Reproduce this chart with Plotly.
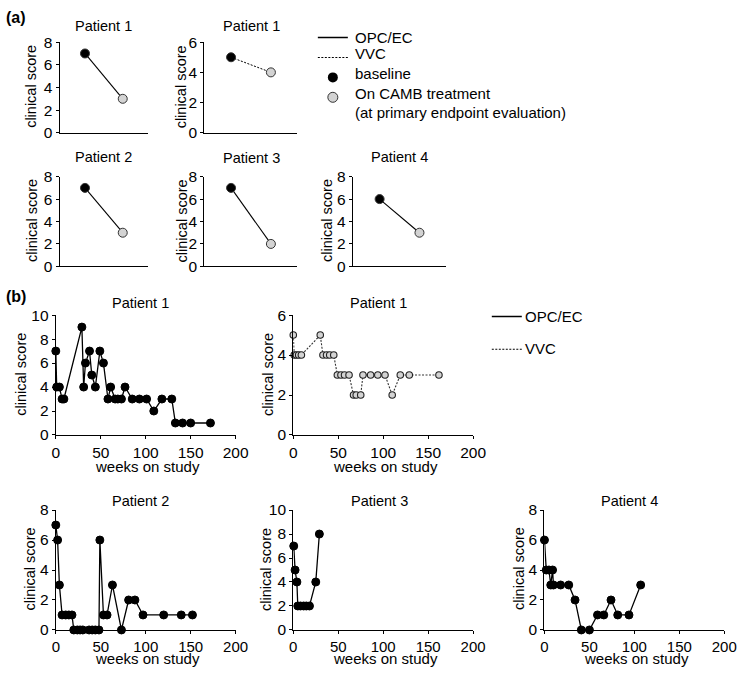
import plotly.graph_objects as go

# ---------------- data ----------------
a_timepoints = ["baseline", "On CAMB treatment"]
a_p1_opc = [7, 3]
a_p1_vvc = [5, 4]
a_p2_opc = [7, 3]
a_p3_opc = [7, 2]
a_p4_opc = [6, 3]

b_p1_weeks = [0, 1, 4, 7, 9, 29, 31, 33, 37.5, 40, 44, 49, 53, 58, 61, 66, 69, 73, 77, 85, 93, 101, 109, 118, 129, 133, 141, 150, 172]
b_p1_scores = [7, 4, 4, 3, 3, 9, 4, 6, 7, 5, 4, 7, 6, 3, 4, 3, 3, 3, 4, 3, 3, 3, 2, 3, 3, 1, 1, 1, 1]

b_p1v_weeks = [0, 1, 3.5, 6, 9, 30, 33, 37, 40.5, 45, 49, 53, 57, 62, 67, 70, 75, 77.5, 86, 94, 102, 110, 119, 129, 162]
b_p1v_scores = [5, 4, 4, 4, 4, 5, 4, 4, 4, 4, 3, 3, 3, 3, 2, 2, 2, 3, 3, 3, 3, 2, 3, 3, 3]

b_p2_weeks = [0, 2, 4, 7, 11, 14.5, 18, 20, 24, 27, 30, 37, 40.5, 44, 48, 49, 53, 57, 63, 73, 81, 88, 97, 120, 139.5, 152]
b_p2_scores = [7, 6, 3, 1, 1, 1, 1, 0, 0, 0, 0, 0, 0, 0, 0, 6, 1, 1, 3, 0, 2, 2, 1, 1, 1, 1]

b_p3_weeks = [0.5, 2, 4, 5, 8, 11.5, 14.5, 18, 25, 29]
b_p3_scores = [7, 5, 4, 2, 2, 2, 2, 2, 4, 8]

b_p4_weeks = [0, 2, 5, 7, 9, 10, 18, 27, 34, 41, 50, 59, 66, 74, 81.5, 94, 107]
b_p4_scores = [6, 4, 4, 3, 4, 3, 3, 3, 2, 0, 0, 1, 1, 2, 1, 1, 3]

legend_a_labels = ["OPC/EC", "VVC", "baseline", "On CAMB treatment", "(at primary endpoint evaluation)"]
legend_b_labels = ["OPC/EC", "VVC"]

# ---------------- layout helpers ----------------
W, H = 750, 675
FONT = "Liberation Sans, Arial, sans-serif"
TICKF = 15.5
TITLEF = 14.5
GRAY = "#d3d3d3"
DOT = "2px,1.5px"


def xd(a, b):
    return [a / W, b / W]


def yd(top, bot):
    return [1 - bot / H, 1 - top / H]


def px(x):
    return x / W


def py(y):
    return 1 - y / H


fig = go.Figure()
layout = {}
ann = []

a_axes = [
    (57, 147, 34, 127, [0, 8]),
    (205, 300, 34, 127, [0, 6]),
    (57, 147, 172, 264, [0, 8]),
    (205, 300, 172, 264, [0, 8]),
    (357, 452, 172, 264, [0, 8]),
]
b_axes = [
    (53, 237, 314, 437, [0, 10]),
    (296, 480, 314, 437, [0, 6]),
    (53, 237, 514, 637, [0, 8]),
    (296, 480, 514, 637, [0, 10]),
    (553, 737, 514, 637, [0, 8]),
]
a_ytitle_x = [28, 182, 28, 182, 330]
b_ytitle_x = [17, 270, 27, 268, 527]
b_xtitle_y = [469, 469, 666, 666, 666]

axis_common = dict(showline=True, linecolor="black", linewidth=1.3, showgrid=False, zeroline=False,
                   tickfont=dict(family=FONT, size=TICKF, color="black"), ticks="outside",
                   ticklen=3, tickwidth=1.2, tickcolor="black")


def ytitle(x, top, bot):
    ann.append(dict(text="clinical score", x=px(x), y=py((top + bot) / 2 - 1), xref="paper", yref="paper",
                    showarrow=False, textangle=-90, xanchor="center", yanchor="middle",
                    font=dict(family=FONT, size=TITLEF, color="black")))


def xtitle(x0, x1, y):
    ann.append(dict(text="weeks on study", x=px((x0 + x1) / 2 + 2), y=py(y), xref="paper", yref="paper",
                    showarrow=False, xanchor="center", yanchor="middle", borderpad=0,
                    font=dict(family=FONT, size=15, color="black")))


idx = 1
for k, (x0, x1, y0, y1, yr) in enumerate(a_axes):
    s = "" if idx == 1 else str(idx)
    layout["xaxis" + s] = dict(domain=xd(x0, x1), anchor="y" + s, type="category",
                               range=[-0.67, 1.66], showline=True, linecolor="black", linewidth=1.3,
                               showgrid=False, zeroline=False, showticklabels=False, ticks="")
    layout["yaxis" + s] = dict(axis_common, domain=yd(y0, y1), anchor="x" + s, range=yr, dtick=2)
    ytitle(a_ytitle_x[k], y0, y1)
    idx += 1

for k, (x0, x1, y0, y1, yr) in enumerate(b_axes):
    s = str(idx)
    xax = dict(axis_common, domain=xd(x0, x1), anchor="y" + s, range=[0, 200], dtick=50)
    if k >= 2:
        xax["tickfont"] = dict(family=FONT, size=15, color="black")
    layout["xaxis" + s] = xax
    layout["yaxis" + s] = dict(axis_common, domain=yd(y0, y1), anchor="x" + s, range=yr, dtick=2)
    ytitle(b_ytitle_x[k], y0, y1)
    xtitle(x0, x1, b_xtitle_y[k])
    idx += 1

# ---------------- traces: panel (a) ----------------
a_series = [(a_p1_opc, "solid"), (a_p1_vvc, DOT), (a_p2_opc, "solid"), (a_p3_opc, "solid"), (a_p4_opc, "solid")]
for i, (vals, dash) in enumerate(a_series, start=1):
    s = "" if i == 1 else str(i)
    fig.add_trace(go.Scatter(
        x=a_timepoints, y=vals, mode="lines+markers",
        line=dict(color="black", width=1.1 if dash == "solid" else 1.0, dash=dash),
        marker=dict(size=9, color=["black", GRAY], line=dict(color="#333333", width=1)),
        xaxis="x" + s, yaxis="y" + s, showlegend=False, cliponaxis=False))

# ---------------- traces: panel (b) ----------------
b_series = [
    (b_p1_weeks, b_p1_scores, "solid"),
    (b_p1v_weeks, b_p1v_scores, "dot"),
    (b_p2_weeks, b_p2_scores, "solid"),
    (b_p3_weeks, b_p3_scores, "solid"),
    (b_p4_weeks, b_p4_scores, "solid"),
]
for j, (xs, ys, dash) in enumerate(b_series, start=6):
    if dash == "solid":
        mk = dict(size=8, color="black", line=dict(color="black", width=1))
        ln = dict(color="black", width=1.3)
    else:
        mk = dict(size=6.5, color=GRAY, line=dict(color="#222222", width=1.1))
        ln = dict(color="#333333", width=1.1, dash=DOT)
    fig.add_trace(go.Scatter(x=xs, y=ys, mode="lines+markers", line=ln, marker=mk,
                             xaxis=f"x{j}", yaxis=f"y{j}", showlegend=False, cliponaxis=False))

# ---------------- legends (keys via plotly legend, labels as text) ----------------
KEYF = dict(family=FONT, size=13, color="black")
fig.add_trace(go.Scatter(x=[None], y=[None], mode="lines", name=" ",
                         line=dict(color="black", width=1.5), legend="legend", legendrank=1))
fig.add_trace(go.Scatter(x=[None], y=[None], mode="lines", name=" ",
                         line=dict(color="black", width=1.1, dash=DOT), legend="legend", legendrank=2))
fig.add_trace(go.Scatter(x=[None], y=[None], mode="markers", name=" ",
                         marker=dict(size=10, color="black"), legend="legend", legendrank=3))
fig.add_trace(go.Scatter(x=[None], y=[None], mode="markers", name=" ",
                         marker=dict(size=10, color=GRAY, line=dict(color="#333333", width=1)),
                         legend="legend", legendrank=4))

fig.add_trace(go.Scatter(x=[None], y=[None], mode="lines", name=" ",
                         line=dict(color="black", width=1.5), legend="legend2", legendgroup="g1"))
fig.add_trace(go.Scatter(x=[None], y=[None], mode="lines", name=" ",
                         line=dict(color="black", width=1.1, dash=DOT), legend="legend2", legendgroup="g2"))

layout["legend"] = dict(x=px(316), y=py(14), xanchor="left", yanchor="top", font=KEYF,
                        bgcolor="rgba(0,0,0,0)", tracegroupgap=0, itemwidth=30, traceorder="normal")
layout["legend2"] = dict(x=px(494), y=py(300), xanchor="left", yanchor="top", font=KEYF,
                         bgcolor="rgba(0,0,0,0)", tracegroupgap=13, itemwidth=30, traceorder="grouped")

LEGF = dict(family=FONT, size=15, color="black")
for t, y in zip(legend_a_labels, [29, 46, 66, 87, 106]):
    ann.append(dict(text=t, x=px(357), y=py(y), xref="paper", yref="paper", showarrow=False,
                    xanchor="left", yanchor="middle", font=LEGF))
for t, y in zip(legend_b_labels, [315, 348]):
    ann.append(dict(text=t, x=px(531), y=py(y), xref="paper", yref="paper", showarrow=False,
                    xanchor="left", yanchor="middle", font=LEGF))

# ---------------- titles / panel labels ----------------
titles = [
    ("Patient 1", 102, 17), ("Patient 1", 253, 17),
    ("Patient 2", 102, 152), ("Patient 3", 253, 153), ("Patient 4", 405, 152),
    ("Patient 1", 140, 302), ("Patient 1", 383, 302),
    ("Patient 2", 140, 505), ("Patient 3", 384, 505), ("Patient 4", 640, 505),
]
for t, x, y in titles:
    ann.append(dict(text=t, x=px(x), y=py(y), xref="paper", yref="paper", showarrow=False,
                    xanchor="center", yanchor="middle", font=dict(family=FONT, size=14.5, color="black")))
ann.append(dict(text="<b>(a)</b>", x=0, y=py(9), xref="paper", yref="paper", showarrow=False,
                xanchor="left", yanchor="middle", font=dict(family=FONT, size=16, color="black")))
ann.append(dict(text="<b>(b)</b>", x=0, y=py(295), xref="paper", yref="paper", showarrow=False,
                xanchor="left", yanchor="middle", font=dict(family=FONT, size=16, color="black")))

fig.update_layout(width=W, height=H, margin=dict(l=0, r=0, t=0, b=0), plot_bgcolor="white",
                  paper_bgcolor="white", annotations=ann, font=dict(family=FONT, color="black"),
                  **layout)

fig.write_html("out.html", config={"displayModeBar": False},
               post_script="document.body.style.margin='0px';")
